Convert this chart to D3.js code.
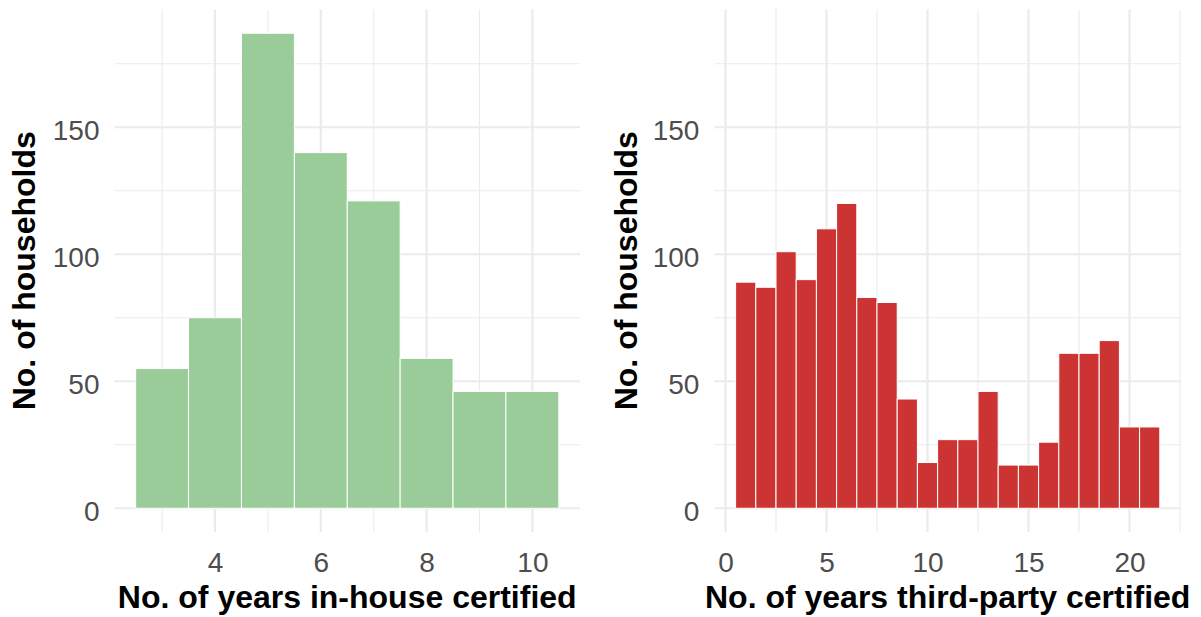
<!DOCTYPE html>
<html>
<head>
<meta charset="utf-8">
<script src="https://cdn.jsdelivr.net/npm/d3@7"></script>
<style>
  body { margin: 0; background: #fff; }
  text { font-family: "Liberation Sans", Arial, sans-serif; }
</style>
</head>
<body>
<div id="chart"></div>
<script>
// in-house certified histogram (bin centres, width 1)
const inHouseYears = [3, 4, 5, 6, 7, 8, 9, 10];
const inHouseCounts = [55, 75, 187, 140, 121, 59, 46, 46];

// third-party certified histogram
const thirdPartyYears = [1, 2, 3, 4, 5, 6, 7, 8, 9, 10, 11, 12, 13, 14, 15, 16, 17, 18, 19, 20, 21];
const thirdPartyCounts = [89, 87, 101, 90, 110, 120, 83, 81, 43, 18, 27, 27, 46, 17, 17, 26, 61, 61, 66, 32, 32];

const yMajor = [0, 50, 100, 150];
const yMinor = [25, 75, 125, 175];
const inHouseTicks = [4, 6, 8, 10];
const inHouseMinor = [3, 5, 7, 9];
const thirdPartyTicks = [0, 5, 10, 15, 20];
const thirdPartyMinor = [2.5, 7.5, 12.5, 17.5, 22.5];

const yTitle = "No. of households";
const inHouseTitle = "No. of years in-house certified";
const thirdPartyTitle = "No. of years third-party certified";

const w = 1201;
const h = 617;

const svg = d3.select("#chart")
  .append("svg")
  .attr("width", w)
  .attr("height", h);

// shared y scale (ggplot style 5% expansion)
const yMax = d3.max(inHouseCounts.concat(thirdPartyCounts));
const y = d3.scaleLinear()
  .domain([-0.05 * yMax, 1.05 * yMax])
  .range([532, 9.5]);

function drawPanel(cfg) {
  const lo = d3.min(cfg.years) - 0.5;
  const hi = d3.max(cfg.years) + 0.5;
  const pad = (hi - lo) * 0.05;
  const x = d3.scaleLinear()
    .domain([lo - pad, hi + pad])
    .range([cfg.left, cfg.right]);

  const g = svg.append("g");
  const [x0, x1] = x.range();
  const [y0, y1] = y.range();

  // gridlines
  g.selectAll(".ymin").data(yMinor).enter().append("line")
    .attr("x1", x0).attr("x2", x1)
    .attr("y1", d => y(d)).attr("y2", d => y(d))
    .attr("stroke", "#ebebeb").attr("stroke-width", 1.1);
  g.selectAll(".xmin").data(cfg.minor).enter().append("line")
    .attr("y1", y0).attr("y2", y1)
    .attr("x1", d => x(d)).attr("x2", d => x(d))
    .attr("stroke", "#ebebeb").attr("stroke-width", 1.1);
  g.selectAll(".ymaj").data(yMajor).enter().append("line")
    .attr("x1", x0).attr("x2", x1)
    .attr("y1", d => y(d)).attr("y2", d => y(d))
    .attr("stroke", "#ebebeb").attr("stroke-width", 2.2);
  g.selectAll(".xmaj").data(cfg.ticks).enter().append("line")
    .attr("y1", y0).attr("y2", y1)
    .attr("x1", d => x(d)).attr("x2", d => x(d))
    .attr("stroke", "#ebebeb").attr("stroke-width", 2.2);

  // bars
  g.selectAll(".bar").data(cfg.years).enter().append("rect")
    .attr("x", d => x(d - 0.5))
    .attr("width", d => x(d + 0.5) - x(d - 0.5))
    .attr("y", (d, i) => y(cfg.counts[i]))
    .attr("height", (d, i) => y(0) - y(cfg.counts[i]))
    .attr("fill", cfg.fill)
    .attr("stroke", "#ffffff")
    .attr("stroke-width", 1);

  // axes (labels only)
  const xAxis = g.append("g")
    .attr("transform", `translate(0,${y0})`)
    .call(d3.axisBottom(x).tickValues(cfg.ticks).tickSize(0).tickPadding(20));
  const yAxis = g.append("g")
    .attr("transform", `translate(${x0},0)`)
    .call(d3.axisLeft(y).tickValues(yMajor).tickSize(0).tickPadding(15));
  [xAxis, yAxis].forEach(a => {
    a.select(".domain").remove();
    a.selectAll("text")
      .attr("fill", "#4d4d4d")
      .style("font-size", "28px")
      .style("font-family", "'Liberation Sans', Arial, sans-serif");
  });
  yAxis.selectAll("text").attr("dy", "0.45em");

  // titles
  g.append("text")
    .attr("x", (x0 + x1) / 2)
    .attr("y", 608)
    .attr("text-anchor", "middle")
    .style("font-size", "32px")
    .style("font-weight", "bold")
    .text(cfg.title);
  g.append("text")
    .attr("transform", `translate(${cfg.yTitleX},${(y0 + y1) / 2}) rotate(-90)`)
    .attr("text-anchor", "middle")
    .style("font-size", "32px")
    .style("font-weight", "bold")
    .text(yTitle);
}

drawPanel({
  years: inHouseYears, counts: inHouseCounts,
  ticks: inHouseTicks, minor: inHouseMinor,
  left: 114.5, right: 580, fill: "#99cc99",
  title: inHouseTitle, yTitleX: 35
});

drawPanel({
  years: thirdPartyYears, counts: thirdPartyCounts,
  ticks: thirdPartyTicks, minor: thirdPartyMinor,
  left: 714.4, right: 1181, fill: "#cc3333",
  title: thirdPartyTitle, yTitleX: 637
});
</script>
</body>
</html>
